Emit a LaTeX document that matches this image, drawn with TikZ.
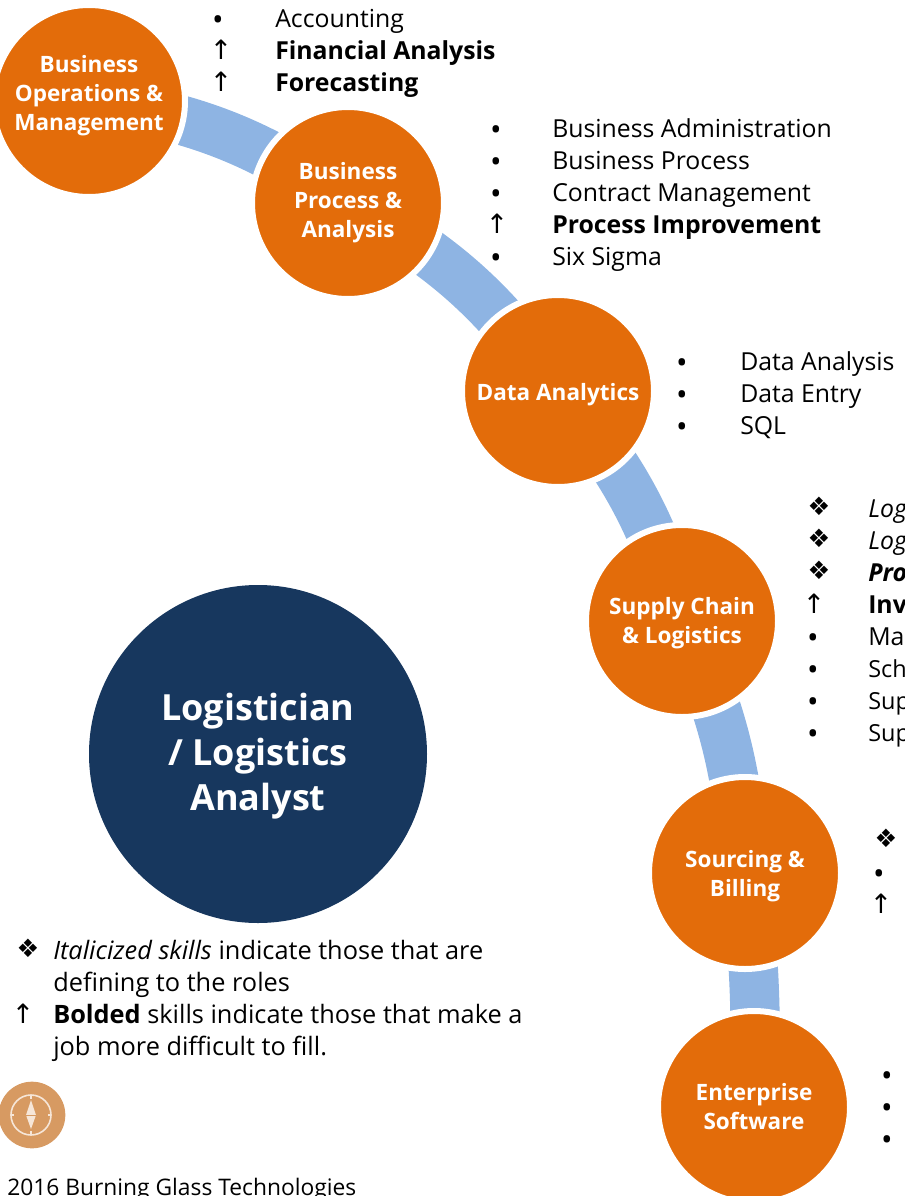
\documentclass[tikz,border=0pt]{standalone}
\usepackage{fontspec}
\usetikzlibrary{backgrounds}
\setmainfont{Open Sans}
\newfontfamily\marksfont{DejaVu Sans}
\definecolor{stageorange}{HTML}{E36C0A}
\definecolor{bandblue}{HTML}{8EB4E3}
\definecolor{rolenavy}{HTML}{17375E}
\definecolor{compasstan}{HTML}{D79A62}
\definecolor{compassline}{HTML}{F6E6D8}

\begin{document}
\begin{tikzpicture}[x=0.75pt, y=-0.75pt,
  stage/.style={circle, fill=stageorange, draw=white, line width=4.5pt, minimum size=144pt, inner sep=0pt},
  stagetext/.style={align=center, inner sep=0pt, text=white, font=\fontsize{16.9}{21.7}\selectfont\bfseries},
  band/.style={draw=bandblue, line width=37pt},
  item/.style={anchor=base west, inner sep=0pt, font=\fontsize{18.6}{21}\selectfont},
  boldit/.style={item, font=\fontsize{18.6}{21}\selectfont\bfseries},
  edgeit/.style={item, font=\fontsize{17.6}{21}\selectfont},
  keyit/.style={item, font=\fontsize{19}{21}\selectfont},
  bullet/.style={anchor=base, inner sep=0pt, yshift=-2.5pt, font=\fontsize{23}{21}\selectfont},
  diam/.style={anchor=base, inner sep=0pt, font=\fontsize{19}{21}\marksfont},
  uparrow/.style={anchor=base, inner sep=0pt, font=\fontsize{20}{21}\marksfont}]

\useasboundingbox (0,0) rectangle (905,1196);

\node[stage] (ops) at (89,101) {};
\node[stage] (proc) at (348,203) {};
\node[stage] (data) at (558,391) {};
\node[stage] (supply) at (682,621) {};
\node[stage] (sourcing) at (745,873) {};
\node[stage] (erp) at (754,1107) {};

\begin{pgfonlayer}{background}
\draw[band] (ops.center) to[bend left=13] (proc.center);
\draw[band] (proc.center) to[bend left=13] (data.center);
\draw[band] (data.center) to[bend left=12] (supply.center);
\draw[band] (supply.center) to[bend left=10] (sourcing.center);
\draw[band] (sourcing.center) to[bend left=4] (erp.center);
\end{pgfonlayer}

\node[stagetext] (opstext) at (89,95.5) {Business\\Operations \&\\Management};
\node[stagetext] (proctext) at (348,203) {Business\\Process \&\\Analysis};
\node[stagetext] (datatext) at (558,395) {Data Analytics};
\node[stagetext] (supplytext) at (682,623) {Supply Chain\\\& Logistics};
\node[stagetext] (sourcingtext) at (745,876) {Sourcing \&\\Billing};
\node[stagetext] (erptext) at (754,1107) {Enterprise\\Software};

\node[circle, fill=rolenavy, minimum size=253.5pt, inner sep=0pt] (role) at (258,754) {};
\node[align=center, inner sep=0pt, text=white, font=\fontsize{27}{33.5}\selectfont\bfseries] (roletext) at (258,756) {Logistician\\/ Logistics\\Analyst};

\node[bullet] (m1a) at (218,27) {•};
\node[item] (t1a) at (275,27) {Accounting};
\node[uparrow] (m1b) at (221,59) {↑};
\node[boldit] (t1b) at (275,59) {Financial Analysis};
\node[uparrow] (m1c) at (221,91) {↑};
\node[boldit] (t1c) at (275,91) {Forecasting};

\node[bullet] (m2a) at (496,137) {•};
\node[item] (t2a) at (552,137) {Business Administration};
\node[bullet] (m2b) at (496,169) {•};
\node[item] (t2b) at (552,169) {Business Process};
\node[bullet] (m2c) at (496,201) {•};
\node[item] (t2c) at (552,201) {Contract Management};
\node[uparrow] (m2d) at (497,233) {↑};
\node[boldit] (t2d) at (552,233) {Process Improvement};
\node[bullet] (m2e) at (496,265) {•};
\node[item] (t2e) at (552,265) {Six Sigma};

\node[bullet] (m3a) at (682,370) {•};
\node[item] (t3a) at (740,370) {Data Analysis};
\node[bullet] (m3b) at (682,402) {•};
\node[item] (t3b) at (740,402) {Data Entry};
\node[bullet] (m3c) at (682,434) {•};
\node[item] (t3c) at (740,434) {SQL};

\node[diam] (m4a) at (819,515) {❖};
\node[item, font=\fontsize{18.6}{21}\selectfont\itshape] (t4a) at (868,517) {Log};
\node[diam] (m4b) at (819,547) {❖};
\node[item, font=\fontsize{18.6}{21}\selectfont\itshape] (t4b) at (868,549) {Log};
\node[diam] (m4c) at (819,579) {❖};
\node[item, font=\fontsize{18.6}{21}\selectfont\bfseries\itshape] (t4c) at (868,581) {Pro};
\node[uparrow] (m4d) at (814,613) {↑};
\node[boldit] (t4d) at (868,613) {Inv};
\node[bullet] (m4e) at (813,645) {•};
\node[item] (t4e) at (868,645) {Ma};
\node[bullet] (m4f) at (813,677) {•};
\node[edgeit] (t4f) at (868,677) {Sch};
\node[bullet] (m4g) at (813,709) {•};
\node[edgeit] (t4g) at (868,709) {Sup};
\node[bullet] (m4h) at (813,741) {•};
\node[edgeit] (t4h) at (868,741) {Sup};

\node[diam] (m5a) at (886,847) {❖};
\node[bullet] (m5b) at (879,881) {•};
\node[uparrow] (m5c) at (881,913) {↑};

\node[bullet] (m6a) at (887,1083) {•};
\node[bullet] (m6b) at (887,1115) {•};
\node[bullet] (m6c) at (887,1147) {•};

\node[diam] (keya) at (28,957) {❖};
\node[keyit] (keyta) at (53,959) {\itshape Italicized skills\upshape{} indicate those that are};
\node[keyit] (keytb) at (53,991) {defining to the roles};
\node[uparrow] (keyb) at (23,1023) {↑};
\node[keyit] (keytc) at (53,1023) {\bfseries Bolded\mdseries{} skills indicate those that make a};
\node[keyit] (keytd) at (53,1055) {job more difficult to fill.};

% compass badge
\fill[compasstan] (32,1115) circle (25pt);
\draw[compassline, line width=1.2pt] (31,1115) circle (15pt);
\draw[compassline, line width=1pt] (31,1095) -- (31,1099) (31,1131) -- (31,1135) (11,1115) -- (14,1115) (48,1115) -- (51,1115);
\fill[compassline] (31,1100) -- (36,1115) -- (31,1129) -- (26,1115) -- cycle;
\draw[compasstan, line width=0.5pt] (26,1115) -- (36,1115);

\node[item, font=\fontsize{17.1}{18}\selectfont] (credit) at (7,1195) {2016 Burning Glass Technologies};
\end{tikzpicture}
\end{document}
